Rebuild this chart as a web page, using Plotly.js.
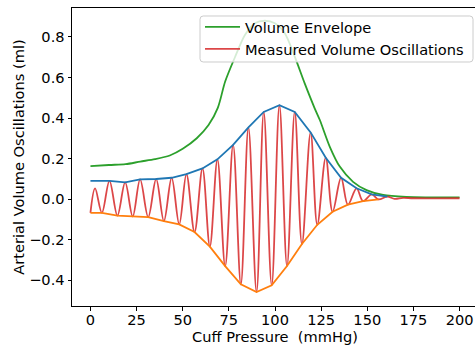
<!DOCTYPE html>
<html>
<head>
<meta charset="utf-8">
<script src="https://cdn.plot.ly/plotly-3.0.1.min.js"></script>
<style>
html,body{margin:0;padding:0;overflow:hidden;background:#fff;}
#chart{width:480px;height:346px;}
</style>
</head>
<body>
<div id="chart"></div>
<script>
// Volume envelope (green)
const envPressure = [0, 10, 19, 27, 35, 43, 50, 57.6, 64, 69, 73, 78.3, 83.7, 89.1, 94.5, 99.9, 105.3, 110.7, 116.1, 121.5, 124.3, 129.7, 135.1, 142.3, 149.6, 158.6, 171.2, 200];
const envVolume   = [0.162, 0.168, 0.172, 0.185, 0.197, 0.215, 0.248, 0.300, 0.365, 0.450, 0.580, 0.700, 0.810, 0.868, 0.880, 0.868, 0.818, 0.703, 0.571, 0.448, 0.390, 0.258, 0.160, 0.085, 0.044, 0.020, 0.011, 0.008];

// Measured volume oscillations (red): alternating peaks and troughs
const oscPressure = [0, 2.5, 6.2, 10.3, 14.6, 18.8, 22.9, 26.9, 31.3, 35.6, 39.8, 44.0, 48.1, 52.0, 56.4, 60.7, 64.7, 68.8, 73.0, 77.3, 81.5, 85.6, 90.0, 93.9, 98.2, 102.4, 106.5, 110.7, 114.6, 119.3, 122.9, 127.5, 131.2, 135.8, 139.5, 144.2, 147.7, 152.4, 156.1, 160.9, 164.8, 169.4, 175, 200];
const oscVolume   = [-0.068, 0.053, -0.068, 0.090, -0.082, 0.082, -0.086, 0.097, -0.089, 0.099, -0.109, 0.105, -0.125, 0.123, -0.163, 0.151, -0.235, 0.196, -0.331, 0.267, -0.421, 0.354, -0.459, 0.430, -0.426, 0.463, -0.331, 0.430, -0.222, 0.329, -0.127, 0.204, -0.063, 0.105, -0.028, 0.053, -0.010, 0.023, -0.002, 0.012, 0.001, 0.006, 0.004, 0.004];

// Upper envelope through peaks (blue)
const upperPressure = [0, 10.3, 18.8, 26.9, 35.6, 44.0, 52.0, 60.7, 68.8, 77.3, 85.6, 93.9, 102.4, 110.7, 119.3, 127.5, 135.8, 144.2, 152.4, 160.9];
const upperVolume   = [0.090, 0.090, 0.082, 0.097, 0.099, 0.105, 0.123, 0.151, 0.196, 0.267, 0.354, 0.430, 0.463, 0.430, 0.329, 0.204, 0.105, 0.053, 0.023, 0.012];

// Lower envelope through troughs (orange)
const lowerPressure = [0, 6.2, 14.6, 22.9, 31.3, 39.8, 48.1, 56.4, 64.7, 73.0, 81.5, 90.0, 98.2, 106.5, 114.6, 122.9, 131.2, 139.5, 147.7, 156.1];
const lowerVolume   = [-0.068, -0.068, -0.082, -0.086, -0.089, -0.109, -0.125, -0.163, -0.235, -0.331, -0.421, -0.459, -0.426, -0.331, -0.222, -0.127, -0.063, -0.028, -0.010, -0.002];

const xTicks = [0, 25, 50, 75, 100, 125, 150, 175, 200];

const FONT = 'DejaVu Sans, sans-serif';
const FS = 14.6;

const traces = [
  {x: envPressure, y: envVolume, mode: 'lines', name: 'Volume Envelope',
   line: {color: '#2ca02c', width: 1.8, shape: 'spline', smoothing: 0.8}},
  {x: oscPressure, y: oscVolume, mode: 'lines', name: 'Measured Volume Oscillations',
   line: {color: 'rgba(214,39,40,0.85)', width: 1.8, shape: 'spline', smoothing: 1}},
  {x: upperPressure, y: upperVolume, mode: 'lines', showlegend: false,
   line: {color: '#1f77b4', width: 1.8}},
  {x: lowerPressure, y: lowerVolume, mode: 'lines', showlegend: false,
   line: {color: '#ff7f0e', width: 1.8}}
];

const axisCommon = {
  showgrid: false, zeroline: false, showline: true, mirror: true,
  linecolor: '#000', linewidth: 1, ticks: 'outside', ticklen: 3.5, tickwidth: 1,
  tickcolor: '#000', tickfont: {family: FONT, size: FS, color: '#000'}
};

// legend frame (rounded, semi-transparent) in paper coordinates
const bx0 = 0.3153, bx1 = 0.9877, by0 = 0.8188, by1 = 0.9732, rx = 0.008, ry = 0.011;
const framePath = `M${bx0+rx},${by0} L${bx1-rx},${by0} Q${bx1},${by0} ${bx1},${by0+ry} L${bx1},${by1-ry} Q${bx1},${by1} ${bx1-rx},${by1} L${bx0+rx},${by1} Q${bx0},${by1} ${bx0},${by1-ry} L${bx0},${by0+ry} Q${bx0},${by0} ${bx0+rx},${by0} Z`;

const layout = {
  width: 480, height: 346,
  margin: {l: 72, r: 2, t: 8, b: 40},
  paper_bgcolor: '#fff', plot_bgcolor: '#fff',
  font: {family: FONT, size: FS, color: '#000'},
  xaxis: Object.assign({}, axisCommon, {
    range: [-10, 210], tickmode: 'array', tickvals: xTicks, ticklabelstandoff: -3,
    title: {text: 'Cuff Pressure  (mmHg)', font: {family: FONT, size: FS, color: '#000'}, standoff: 0}
  }),
  yaxis: Object.assign({}, axisCommon, {
    range: [-0.528, 0.943], tick0: 0, dtick: 0.2, tickformat: '.1f',
    title: {text: 'Arterial Volume Oscillations (ml)', font: {family: FONT, size: FS, color: '#000'}, standoff: 0.5}
  }),
  shapes: [{type: 'path', xref: 'paper', yref: 'paper', path: framePath, layer: 'above',
    fillcolor: 'rgba(255,255,255,0.8)', line: {color: '#cccccc', width: 1}}],
  legend: {
    x: 0.3153, y: 0.99, xanchor: 'left', yanchor: 'top',
    bgcolor: 'rgba(0,0,0,0)', borderwidth: 0,
    font: {family: FONT, size: FS, color: '#000'},
    itemwidth: 35
  },
  showlegend: true
};

Plotly.newPlot('chart', traces, layout, {displayModeBar: false, staticPlot: true});
</script>
</body>
</html>
